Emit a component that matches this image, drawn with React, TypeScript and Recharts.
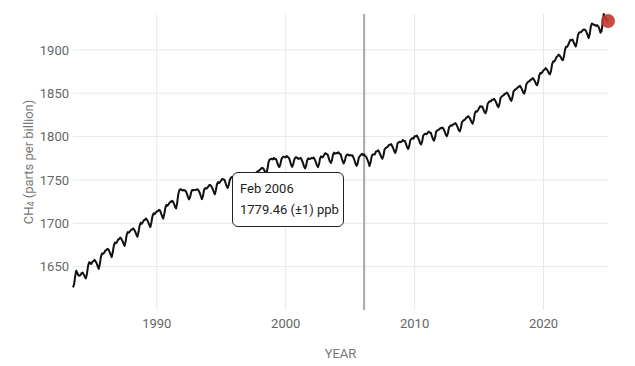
import { Line, LineChart, ReferenceDot, ReferenceLine, Tooltip, XAxis, YAxis } from 'recharts'

// Monthly global mean CH4 (ppb), starting Jul 1983
const startYear = 1983
const startMonth = 7
const monthNames = ['Jan', 'Feb', 'Mar', 'Apr', 'May', 'Jun', 'Jul', 'Aug', 'Sep', 'Oct', 'Nov', 'Dec']

const ppb1980s = [
  1626.0, 1629.5, 1638.8, 1645.2, 1643.0, 1640.1,
  1639.5, 1640.2, 1642.6, 1643.1, 1641.0, 1638.2, 1636.5, 1641.8, 1650.6, 1655.0, 1654.3, 1653.1,
  1655.8, 1656.2, 1657.9, 1656.1, 1653.9, 1650.4, 1647.6, 1653.0, 1661.5, 1665.2, 1664.8, 1665.9,
  1668.4, 1669.0, 1670.6, 1669.9, 1667.1, 1663.8, 1661.0, 1666.5, 1674.3, 1677.8, 1677.0, 1678.6,
  1681.3, 1681.9, 1683.5, 1682.0, 1679.6, 1676.5, 1673.9, 1679.4, 1686.8, 1689.9, 1689.2, 1690.8,
  1692.4, 1692.8, 1694.1, 1692.6, 1690.2, 1686.8, 1684.6, 1689.9, 1697.3, 1700.6, 1699.5, 1701.2,
  1703.6, 1704.1, 1705.5, 1703.9, 1701.4, 1698.2, 1695.8, 1701.0, 1708.4, 1711.5, 1710.6, 1712.3,
]

const ppb1990s = [
  1713.8, 1714.0, 1715.6, 1714.8, 1711.5, 1708.1, 1705.4, 1710.9, 1718.2, 1721.3, 1720.2, 1722.0,
  1724.1, 1724.6, 1726.0, 1725.2, 1722.6, 1719.0, 1717.2, 1724.0, 1733.5, 1738.2, 1739.4, 1738.6,
  1737.8, 1738.4, 1738.0, 1737.1, 1734.2, 1730.5, 1727.6, 1730.3, 1735.9, 1738.6, 1738.1, 1738.5,
  1738.3, 1738.9, 1739.2, 1737.6, 1735.0, 1731.2, 1727.9, 1731.6, 1738.4, 1740.7, 1740.0, 1740.8,
  1742.5, 1744.3, 1744.0, 1742.1, 1739.8, 1736.2, 1733.5, 1738.1, 1745.0, 1747.5, 1746.4, 1747.9,
  1749.6, 1751.4, 1750.6, 1750.2, 1746.5, 1742.9, 1740.9, 1744.5, 1750.1, 1752.6, 1753.4, 1752.8,
  1752.7, 1754.4, 1753.2, 1752.9, 1749.1, 1745.6, 1743.2, 1746.8, 1752.1, 1754.5, 1755.2, 1754.6,
  1755.3, 1755.5, 1756.6, 1754.6, 1752.0, 1748.7, 1746.8, 1750.6, 1757.5, 1759.0, 1760.1, 1760.6,
  1761.9, 1763.0, 1764.1, 1763.3, 1761.4, 1758.6, 1757.6, 1762.5, 1770.4, 1773.6, 1773.9, 1774.5,
  1773.6, 1775.4, 1774.2, 1774.1, 1770.5, 1766.8, 1764.9, 1768.0, 1773.8, 1776.2, 1777.0, 1776.3,
]

const ppb2000s = [
  1776.2, 1777.6, 1776.3, 1775.6, 1771.8, 1767.5, 1765.2, 1768.3, 1773.6, 1775.8, 1776.1, 1775.2,
  1774.3, 1775.0, 1775.2, 1772.9, 1769.8, 1766.0, 1763.4, 1766.5, 1772.8, 1774.9, 1774.1, 1774.5,
  1775.2, 1775.1, 1775.8, 1773.7, 1770.9, 1767.0, 1764.8, 1768.2, 1775.0, 1777.2, 1776.0, 1777.1,
  1779.4, 1780.9, 1779.8, 1779.3, 1775.5, 1771.6, 1769.5, 1772.6, 1779.2, 1781.5, 1780.2, 1781.1,
  1780.7, 1782.0, 1780.4, 1779.8, 1775.7, 1771.5, 1769.0, 1771.9, 1777.2, 1779.1, 1779.4, 1778.3,
  1778.7, 1778.1, 1778.5, 1776.0, 1772.8, 1768.6, 1766.2, 1769.1, 1775.6, 1777.4, 1778.9, 1780.2,
  1778.6, 1779.46, 1777.6, 1776.5, 1773.8, 1770.1, 1766.0, 1770.3, 1777.1, 1779.5, 1779.3, 1779.6,
  1782.9, 1783.1, 1784.2, 1782.2, 1779.6, 1776.3, 1774.4, 1778.2, 1785.1, 1786.6, 1787.7, 1788.2,
  1790.4, 1790.5, 1791.4, 1789.3, 1786.8, 1783.1, 1781.2, 1784.9, 1791.8, 1793.2, 1794.1, 1793.6,
  1794.3, 1796.1, 1795.0, 1794.9, 1791.4, 1787.7, 1785.8, 1789.3, 1796.0, 1797.4, 1798.3, 1797.7,
]

const ppb2010s = [
  1800.4, 1800.3, 1801.2, 1799.1, 1796.5, 1792.8, 1790.9, 1794.3, 1801.1, 1802.5, 1803.4, 1802.8,
  1803.9, 1805.8, 1804.7, 1804.5, 1801.0, 1797.3, 1795.4, 1798.8, 1805.6, 1807.0, 1807.9, 1808.3,
  1809.8, 1809.7, 1810.5, 1808.6, 1805.9, 1802.3, 1800.4, 1803.9, 1810.7, 1812.2, 1813.1, 1812.6,
  1814.3, 1814.5, 1815.6, 1813.6, 1811.0, 1807.6, 1805.9, 1809.6, 1816.6, 1818.0, 1819.1, 1819.6,
  1821.8, 1822.3, 1823.6, 1822.0, 1819.7, 1816.6, 1815.0, 1819.1, 1826.4, 1829.3, 1828.6, 1830.4,
  1833.0, 1835.1, 1834.4, 1834.8, 1831.5, 1828.2, 1826.8, 1830.6, 1837.9, 1839.6, 1840.9, 1840.7,
  1842.4, 1842.6, 1843.7, 1841.7, 1839.1, 1835.7, 1834.0, 1837.7, 1844.7, 1846.1, 1847.2, 1847.8,
  1849.5, 1849.7, 1850.8, 1848.9, 1846.3, 1842.9, 1841.2, 1845.0, 1852.0, 1853.5, 1854.6, 1855.3,
  1856.9, 1857.3, 1858.6, 1856.8, 1854.4, 1851.1, 1849.6, 1853.4, 1860.6, 1862.2, 1863.5, 1864.1,
  1865.6, 1866.1, 1867.5, 1865.9, 1863.6, 1860.5, 1859.2, 1863.2, 1870.5, 1873.4, 1872.8, 1874.6,
]

const ppb2020s = [
  1876.6, 1877.3, 1879.0, 1877.6, 1875.7, 1872.9, 1871.8, 1876.1, 1883.7, 1886.8, 1886.5, 1888.6,
  1891.7, 1892.6, 1894.5, 1893.4, 1891.6, 1889.0, 1888.1, 1892.6, 1900.3, 1903.7, 1903.5, 1905.9,
  1909.0, 1911.6, 1911.2, 1911.9, 1908.9, 1906.0, 1904.0, 1909.1, 1916.7, 1919.8, 1920.3, 1920.6,
  1922.0, 1923.2, 1923.5, 1922.7, 1920.5, 1917.2, 1913.6, 1918.2, 1926.8, 1930.4, 1929.6, 1929.0,
  1928.4, 1927.5, 1928.6, 1927.2, 1924.0, 1919.8, 1921.5, 1930.8, 1941.4, 1938.2, 1936.0, 1934.6,
  1933.4,
]

const yearTicks = [1990, 2000, 2010, 2020]
const ppbTicks = [1650, 1700, 1750, 1800, 1850, 1900]
const highlightIndex = 271 // Feb 2006

const series = [...ppb1980s, ...ppb1990s, ...ppb2000s, ...ppb2010s, ...ppb2020s].map((ppb, i) => {
  const m = startMonth - 1 + i
  return {
    t: startYear + m / 12,
    label: `${monthNames[m % 12]} ${startYear + Math.floor(m / 12)}`,
    ppb,
  }
})
const first = series[0]
const last = series[series.length - 1]
const highlighted = series[highlightIndex]

const font = 'Roboto, "Noto Sans", sans-serif'
const gridColor = '#e8e8e8'

function ReadingTooltip({ active, payload }: { active?: boolean; payload?: Array<{ payload: { label: string; ppb: number } }> }) {
  if (!active || !payload || !payload.length) return null
  const row = payload[0].payload
  return (
    <div
      style={{
        boxSizing: 'border-box',
        width: 112,
        background: '#fff',
        border: '1px solid #222',
        borderRadius: 6,
        padding: '5px 7px 6px',
        fontFamily: font,
        fontSize: 13,
        lineHeight: '21px',
        color: '#222',
        whiteSpace: 'nowrap',
      }}
    >
      <div>{row.label}</div>
      <div>{row.ppb.toFixed(2)} (±1) ppb</div>
    </div>
  )
}

function YLabel({ viewBox }: { viewBox?: { x: number; y: number; width: number; height: number } }) {
  if (!viewBox) return null
  const cx = 28
  const cy = viewBox.y + viewBox.height / 2
  return (
    <text x={cx} y={cy} transform={`rotate(-90 ${cx} ${cy})`} textAnchor="middle" dominantBaseline="central" fill="#777" fontSize={13} fontFamily={font}>
      CH<tspan fontSize={9} dy={3}>4</tspan><tspan dy={-3}> (parts per billion)</tspan>
    </text>
  )
}

export default function App() {
  return (
    <div style={{ position: 'absolute', left: 0, top: 0, width: 635, height: 366, background: '#fff' }}>
      <LineChart width={635} height={366} data={series} margin={{ top: 14, right: 27, bottom: 0, left: 0 }}>
        <XAxis
          type="number"
          dataKey="t"
          domain={[first.t, last.t]}
          ticks={yearTicks}
          tickLine={false}
          axisLine={false}
          tickSize={0}
          tickMargin={9}
          height={56}
          tick={{ fontSize: 13, fill: '#666', fontFamily: font }}
          label={{ value: 'YEAR', position: 'insideBottom', offset: 8, fill: '#777', fontSize: 13, fontFamily: font }}
        />
        <YAxis
          type="number"
          domain={[1600, 'dataMax']}
          ticks={ppbTicks}
          tickLine={false}
          axisLine={false}
          tickSize={0}
          tickMargin={4}
          width={73}
          tick={{ fontSize: 13, fill: '#666', fontFamily: font }}
          label={<YLabel />}
        />
        {ppbTicks.map((v) => (
          <ReferenceLine key={`h${v}`} y={v} stroke={gridColor} strokeWidth={1} />
        ))}
        {yearTicks.map((v) => (
          <ReferenceLine key={`v${v}`} x={v} stroke={gridColor} strokeWidth={1} />
        ))}
        <ReferenceLine x={highlighted.t} stroke="#a8a8a8" strokeWidth={2} />
        <Line
          type="linear"
          dataKey="ppb"
          stroke="#111"
          strokeWidth={2}
          strokeLinejoin="round"
          dot={false}
          activeDot={false}
          isAnimationActive={false}
        />
        <ReferenceDot x={last.t} y={last.ppb} r={7} fill="#c0392b" fillOpacity={0.9} stroke="none" />
        <Tooltip
          defaultIndex={highlightIndex}
          active
          cursor={false}
          content={<ReadingTooltip />}
          position={{ x: 232, y: 172 }}
          isAnimationActive={false}
          wrapperStyle={{ outline: 'none' }}
        />
      </LineChart>
    </div>
  )
}
